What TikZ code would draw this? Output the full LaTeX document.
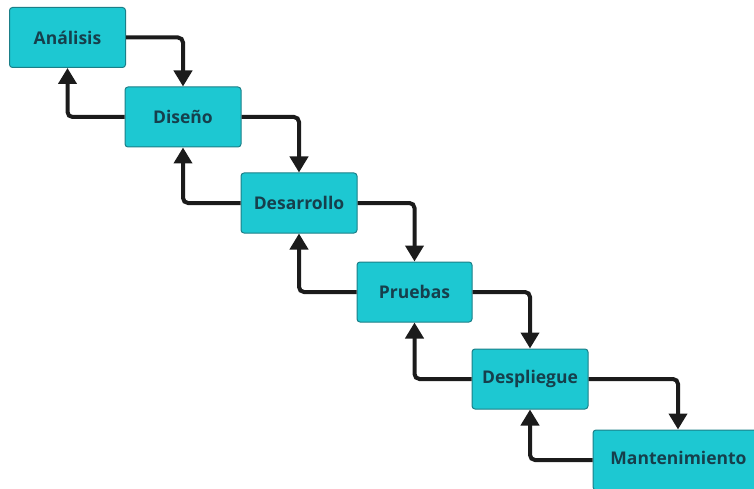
\documentclass[tikz,border=0pt]{standalone}
\usepackage{fontspec}
\setmainfont{Open Sans}
\usetikzlibrary{arrows.meta}
\definecolor{boxfill}{HTML}{1DC8D2}
\definecolor{boxline}{HTML}{1B7F88}
\definecolor{boxtext}{HTML}{163F4C}
\definecolor{arrowc}{HTML}{1B1B1B}
\tikzset{
  phase/.style={draw=boxline, line width=1pt, fill=boxfill, rounded corners=3pt,
    minimum width=116pt, minimum height=60pt, inner sep=0pt,
    text=boxtext, font=\fontsize{17.5}{20}\selectfont\bfseries},
  flow/.style={draw=arrowc, line width=4pt, rounded corners=5pt,
    -{Triangle[length=16pt,width=18pt]}}
}
\begin{document}
\begin{tikzpicture}[x=1pt,y=-1pt]
\useasboundingbox (0,0) rectangle (754,489);
\node[phase] (ana) at (67.5,37.5) {Análisis};
\node[phase] (dis) at (183,117) {Diseño};
\node[phase] (des) at (299,203) {Desarrollo};
\node[phase, minimum width=115pt] (pru) at (414.5,292) {Pruebas};
\node[phase] (dep) at (530,379) {Despliegue};
\node[phase, minimum width=170pt] (man) at (678,460) {};
\node[text=boxtext, font=\fontsize{17.5}{20}\selectfont\bfseries] (mant) at (678.5,458) {Mantenimiento};
\draw[flow] (ana.east) -| (dis.north);
\draw[flow] (dis.west) -| (ana.south);
\draw[flow] (dis.east) -| (des.north);
\draw[flow] (des.west) -| (dis.south);
\draw[flow] (des.east) -| (pru.north);
\draw[flow] (pru.west) -| (des.south);
\draw[flow] (pru.east) -| (dep.north);
\draw[flow] (dep.west) -| (pru.south);
\draw[flow] (dep.east) -| (man.north);
\draw[flow] (man.west) -| (dep.south);
\end{tikzpicture}
\end{document}
